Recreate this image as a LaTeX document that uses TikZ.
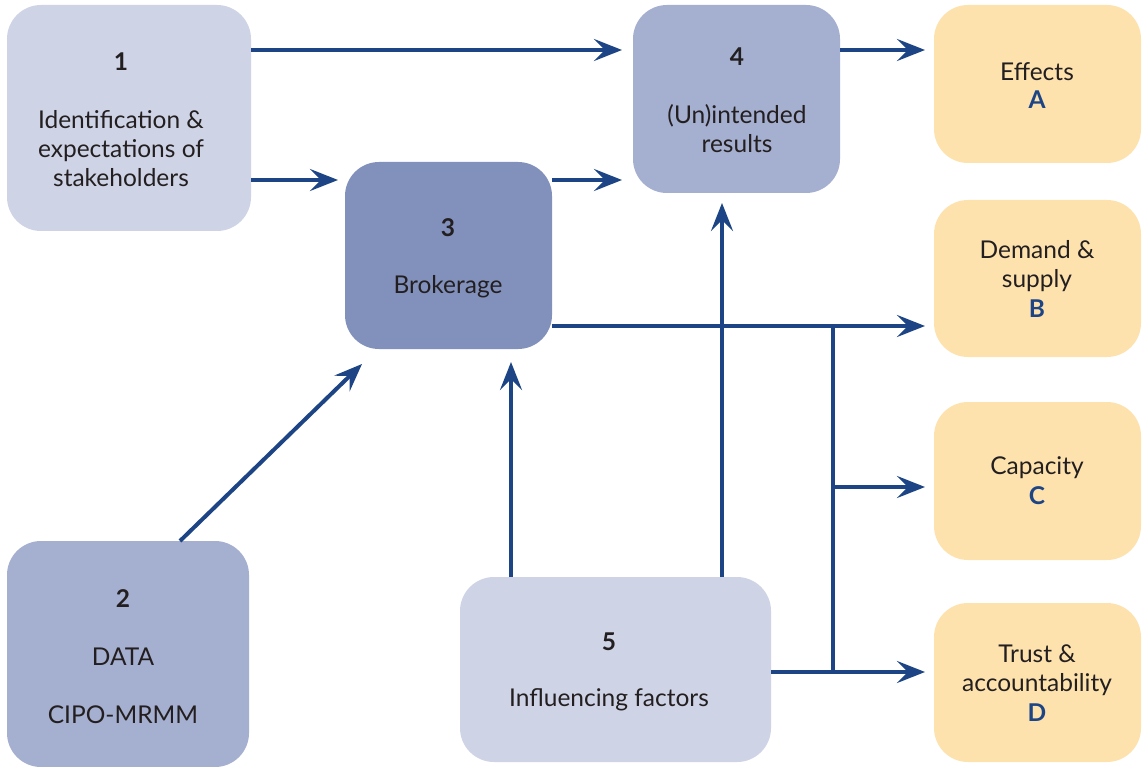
\documentclass[tikz,border=0pt]{standalone}
\usepackage{fontspec}
\setmainfont{Lato}
\usetikzlibrary{arrows.meta}
\definecolor{navy}{HTML}{1D4585}
\definecolor{palebox}{HTML}{CED3E6}
\definecolor{midbox}{HTML}{A5AFCF}
\definecolor{darkbox}{HTML}{8291BC}
\definecolor{sandbox}{HTML}{FDE2AE}
\definecolor{ink}{HTML}{231F20}
\tikzset{
  card/.style={rounded corners=34pt, draw=none},
  lbl/.style={font=\fontsize{24.5}{29}\selectfont, text=ink, align=center, inner sep=0pt},
  num/.style={font=\fontsize{24.5}{29}\selectfont\bfseries, text=ink, inner sep=0pt},
  letter/.style={font=\fontsize{24.5}{29}\selectfont\bfseries, text=navy, inner sep=0pt},
  flow/.style={draw=navy, line width=4pt, -{Stealth[length=28pt, width=22pt, inset=11pt]}},
  wire/.style={draw=navy, line width=4pt},
}
\begin{document}
\begin{tikzpicture}[x=1pt, y=-1pt]
\useasboundingbox (0,0) rectangle (1147,767);
% boxes
\path[card, fill=palebox] (7,5) rectangle (251,231);
\path[card, fill=midbox] (633,5) rectangle (840,193);
\path[card, fill=darkbox] (345,162) rectangle (552,349);
\path[card, fill=midbox] (7,541) rectangle (249,767);
\path[card, fill=palebox] (460,577) rectangle (771,762);
\path[card, fill=sandbox] (934,5) rectangle (1141,163);
\path[card, fill=sandbox] (934,200) rectangle (1141,357);
\path[card, fill=sandbox] (934,402) rectangle (1141,560);
\path[card, fill=sandbox] (934,603) rectangle (1141,762);
% texts
\node[num] (n1) at (121,62) {1};
\node[lbl] (t1) at (121,149) {Identification \&\\expectations of\\stakeholders};
\node[num] (n4) at (737,57) {4};
\node[lbl] (t4) at (737,129) {(Un)intended\\results};
\node[num] (n3) at (448,228) {3};
\node[lbl] (t3) at (448,287) {Brokerage};
\node[num] (n2) at (123,599) {2};
\node[lbl] (t2a) at (123,657) {DATA};
\node[lbl] (t2b) at (123,715) {CIPO-MRMM};
\node[num] (n5) at (609,642) {5};
\node[lbl] (t5) at (609,700) {Influencing factors};
\node[lbl] (tA) at (1037,72) {Effects};
\node[letter] (lA) at (1037,100) {A};
\node[lbl] (tB) at (1037,266) {Demand \&\\supply};
\node[letter] (lB) at (1037,309) {B};
\node[lbl] (tC) at (1037,468) {Capacity};
\node[letter] (lC) at (1037,496) {C};
\node[lbl] (tD) at (1037,670) {Trust \&\\accountability};
\node[letter] (lD) at (1037,713) {D};
% connector anchors
\coordinate (s1a) at (251,50);   \coordinate (e1a) at (622,50);
\coordinate (s1b) at (251,180);  \coordinate (e1b) at (338,180);
\coordinate (s34) at (552,180);  \coordinate (e34) at (622,180);
\coordinate (s4A) at (840,50);   \coordinate (e4A) at (925,50);
\coordinate (s3B) at (552,326);  \coordinate (e3B) at (925,326);
\coordinate (jB) at (833,326);   \coordinate (jD) at (833,672);
\coordinate (jC) at (833,487);   \coordinate (eC) at (925,487);
\coordinate (s5D) at (771,672);  \coordinate (eD) at (925,672);
\coordinate (s23) at (180,541);  \coordinate (e23) at (362,364);
\coordinate (s53) at (511,577);  \coordinate (e53) at (511,362);
\coordinate (s54) at (722,577);  \coordinate (e54) at (722,203);
% connectors
\draw[flow] (s1a) -- (e1a);
\draw[flow] (s1b) -- (e1b);
\draw[flow] (s34) -- (e34);
\draw[flow] (s4A) -- (e4A);
\draw[flow] (s3B) -- (e3B);
\draw[wire] (jB) -- (jD);
\draw[flow] (jC) -- (eC);
\draw[flow] (s5D) -- (eD);
\draw[flow] (s23) -- (e23);
\draw[flow] (s53) -- (e53);
\draw[flow] (s54) -- (e54);
\end{tikzpicture}
\end{document}
